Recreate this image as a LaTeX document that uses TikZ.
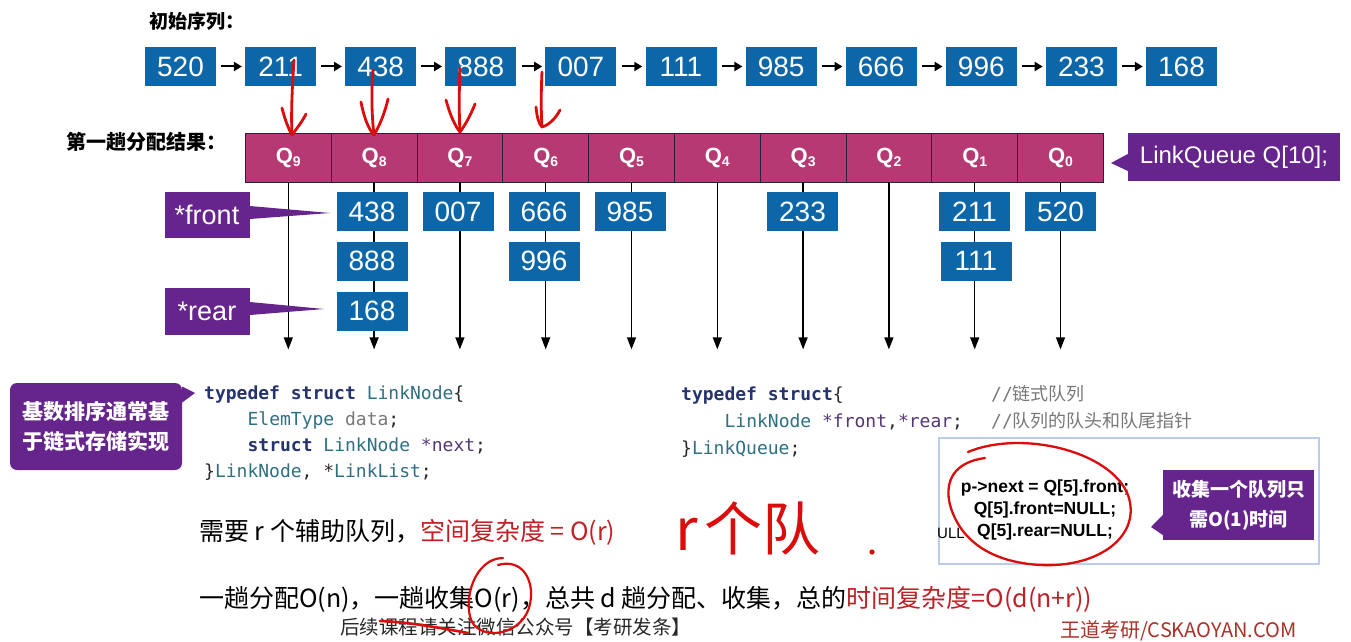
\documentclass[tikz,border=0pt]{standalone}
\usepackage{fontspec}
\setmainfont{Liberation Sans}
\setmonofont{DejaVu Sans Mono}
\newfontfamily\cjk{Noto Sans CJK SC}
\usetikzlibrary{arrows.meta,shadows}
\definecolor{qblue}{RGB}{12,102,168}
\definecolor{qmag}{RGB}{183,57,115}
\definecolor{qline}{RGB}{40,30,70}
\definecolor{qpurple}{RGB}{102,37,140}
\definecolor{tred}{RGB}{192,32,38}
\definecolor{hred}{RGB}{218,12,12}
\definecolor{ckey}{RGB}{38,52,110}
\definecolor{ctype}{RGB}{47,112,130}
\definecolor{cgray}{RGB}{120,120,120}
\definecolor{cptr}{RGB}{85,55,115}
\definecolor{ctxt}{RGB}{40,40,40}
\definecolor{wmred}{RGB}{170,50,40}
\newcommand{\qsub}[1]{\raisebox{-3.5pt}{\fontsize{14}{14}\selectfont #1}}
\newcommand{\kw}[1]{\textcolor{ckey}{\bfseries #1}}
\newcommand{\ty}[1]{\textcolor{ctype}{#1}}
\newcommand{\pv}[1]{\textcolor{cptr}{#1}}
\newcommand{\cm}[1]{\textcolor{cgray}{//{\cjk\fontsize{18}{20}\selectfont #1}}}
\begin{document}
\begin{tikzpicture}[x=1pt,y=-1pt,
  numbox/.style={fill=qblue,text=white,minimum width=71pt,minimum height=39pt,inner sep=0pt,font=\fontsize{28}{30}\selectfont},
  qcell/.style={fill=qmag,draw=qline,line width=0.7pt,minimum width=85.8pt,minimum height=49pt,inner sep=0pt,text=white,font=\bfseries\fontsize{22}{24}\selectfont},
  callout/.style={fill=qpurple,text=white,inner sep=0pt},
  toparrow/.style={draw=black,line width=2pt,-{Triangle[length=8pt,width=9pt]},shorten <=5pt,shorten >=3pt},
  varrow/.style={draw=black,line width=1.3pt,-{Triangle[length=12pt,width=9pt]}},
  codeline/.style={anchor=base west,inner sep=0pt,font=\ttfamily\fontsize{18}{20}\selectfont,text=ctxt},
  cnlabel/.style={inner sep=0pt,font=\cjk\fontsize{25}{28}\selectfont,text=black},
  hand/.style={draw=hred,line width=2.8pt,line cap=round,line join=round}]
\useasboundingbox (0,0) rectangle (1351,642);
\clip (0,0) rectangle (1351,642);
\fill[white] (0,0) rectangle (1351,642);

% titles
\node[inner sep=0pt,anchor=west,font=\cjk\bfseries\fontsize{19}{22}\selectfont] (title1) at (149,21) {初始序列：};
\node[inner sep=0pt,anchor=west,font=\cjk\bfseries\fontsize{20}{22}\selectfont] (title2) at (66,142) {第一趟分配结果：};

% initial sequence
\foreach \v [count=\i from 0] in {520,211,438,888,007,111,985,666,996,233,168}
  \node[numbox] (t\i) at ({180.5+100.1*\i},66.5) {\v};
\foreach \i [evaluate=\i as \j using int(\i+1)] in {0,...,9}
  \draw[toparrow] (t\i.east) -- (t\j.west);

% queue bar
\foreach \q [count=\i from 0] in {9,8,7,6,5,4,3,2,1,0}
  \node[qcell] (q\q) at ({288.3+85.8*\i},157.5) {Q\qsub{\q}};

% vertical arrows
\foreach \q in {9,8,7,6,5,4,3,2,1,0}{
  \path (q\q.south) ++(0,167) coordinate (e\q);
  \draw[varrow] (q\q.south) -- (e\q);
}

% queue elements
\node[numbox] (b8a) at (372,211.5) {438};
\node[numbox] (b8b) at (372,261) {888};
\node[numbox] (b8c) at (372,311) {168};
\node[numbox] (b7a) at (458,211.5) {007};
\node[numbox] (b6a) at (544,211.5) {666};
\node[numbox] (b6b) at (544,261) {996};
\node[numbox] (b5a) at (630,211.5) {985};
\node[numbox] (b3a) at (802.5,211.5) {233};
\node[numbox] (b1a) at (974.5,211.5) {211};
\node[numbox] (b1b) at (976,261) {111};
\node[numbox] (b0a) at (1060.5,211.5) {520};

% front / rear callouts
\node[callout,minimum width=85pt,minimum height=46pt,font=\fontsize{27}{30}\selectfont] (fr) at (207,215) {*front};
\coordinate (frtip) at (330,213);
\fill[qpurple] ([yshift=9pt]fr.east) -- (frtip) -- ([yshift=-4pt]fr.east) -- cycle;
\node[callout,minimum width=85pt,minimum height=47pt,font=\fontsize{27}{30}\selectfont] (re) at (207,311) {*rear};
\coordinate (retip) at (324,309);
\fill[qpurple] ([yshift=9pt]re.east) -- (retip) -- ([yshift=-4pt]re.east) -- cycle;

% LinkQueue callout
\node[callout,minimum width=212pt,minimum height=48pt,font=\fontsize{24}{26}\selectfont] (lq) at (1234,157) {LinkQueue Q[10];};
\coordinate (lqtip) at (1111,163);
\fill[qpurple] ([yshift=3pt]lq.west) -- (lqtip) -- ([yshift=-14pt]lq.west) -- cycle;

% left callout
\node[callout,rounded corners=7pt,minimum width=172pt,minimum height=87pt,align=center,font=\cjk\bfseries\fontsize{21}{30}\selectfont] (radix) at (96,426.5) {基数排序通常基\\于链式存储实现};
\coordinate (radixtip) at (195,393);
\fill[qpurple] ([yshift=40pt]radix.east) -- (radixtip) -- ([yshift=24pt]radix.east) -- cycle;

% code block 1
\node[codeline] (c11) at (204,399) {\kw{typedef struct} \ty{LinkNode}\{};
\node[codeline] (c12) at (247.4,425) {\ty{ElemType} \textcolor{cgray}{data};};
\node[codeline] (c13) at (247.4,451) {\kw{struct} \ty{LinkNode} \pv{*next};};
\node[codeline] (c14) at (204,477) {\}\ty{LinkNode}, *\ty{LinkList};};

% code block 2
\node[codeline] (c21) at (681,400) {\kw{typedef struct}\{};
\node[codeline] (c22) at (724.4,427) {\ty{LinkNode} \pv{*front},\pv{*rear};};
\node[codeline] (c23) at (681,454) {\}\ty{LinkQueue};};
\node[codeline] (c21c) at (991,400) {\cm{链式队列}};
\node[codeline] (c22c) at (991,427) {\cm{队列的队头和队尾指针}};

% complexity lines
\node[cnlabel,anchor=base west] (space) at (199,540) {需要 r 个辅助队列，\textcolor{tred}{空间复杂度 = O(r)}};
\node[cnlabel,anchor=base west] (time) at (199,607) {一趟分配O(n)，一趟收集O(r)，总共 d 趟分配、收集，总的\textcolor{tred}{时间复杂度=O(d(n+r))}};

% watermarks
\node[inner sep=0pt,anchor=base west,font=\cjk\fontsize{19.5}{22}\selectfont,text=ctxt] (wm1) at (340,634) {后续课程请关注微信公众号【考研发条】};
\node[inner sep=0pt,anchor=base west,font=\cjk\fontsize{20}{22}\selectfont,text=wmred] (wm2) at (1060,637) {王道考研/CSKAOYAN.COM};

% panel
\node[fill=white,draw={rgb,255:red,185;green,205;blue,235},line width=2.5pt,minimum width=380pt,minimum height=126pt,inner sep=0pt,
      drop shadow={shadow xshift=0pt,shadow yshift=-1pt,opacity=0.25,fill=blue!40}] (panel) at (1129,501) {};
\node[inner sep=0pt,align=center,font=\bfseries\fontsize{17.5}{22}\selectfont] (pcode) at (1045,510) {p->next = Q[5].front;\\Q[5].front=NULL;\\Q[5].rear=NULL;};
\node[inner sep=0pt,anchor=base west,font=\fontsize{15}{16}\selectfont] (ull) at (937,538) {ULL};
\node[callout,minimum width=151pt,minimum height=70pt,align=center,font=\cjk\bfseries\fontsize{19}{30}\selectfont] (o1) at (1238.5,505) {收集一个队列只\\需O(1)时间};
\coordinate (o1tip) at (1151,527);
\fill[qpurple] ([yshift=-10pt]o1.west) -- (o1tip) -- ([yshift=-30pt]o1.west) -- cycle;

% handwritten annotations
\draw[hand] (294,60) .. controls (292,90) and (291,115) .. (292,134);
\draw[hand] (282,108) .. controls (285,120) and (289,130) .. (292,135) .. controls (297,128) and (302,122) .. (306,114);
\draw[hand] (373,70) .. controls (371,95) and (372,118) .. (374,135);
\draw[hand] (361,102) .. controls (364,118) and (369,130) .. (374,135) .. controls (380,125) and (385,112) .. (388,99);
\draw[hand] (460,68) .. controls (459,92) and (459,115) .. (460,132);
\draw[hand] (446,100) .. controls (450,115) and (455,126) .. (460,132) .. controls (466,124) and (471,114) .. (475,104);
\draw[hand] (542,72) .. controls (541,92) and (541,112) .. (542,127);
\draw[hand] (536,107) .. controls (537,118) and (539,124) .. (542,127) .. controls (549,125) and (556,118) .. (560,110);
\draw[hand,line width=2.3pt] (968,452) .. controls (1020,430) and (1110,450) .. (1128,495)
  .. controls (1142,535) and (1100,568) .. (1040,565)
  .. controls (990,562) and (960,540) .. (950,505)
  .. controls (944,480) and (955,462) .. (985,458);
\draw[hand,line width=2.2pt] (503,558) .. controls (475,558) and (462,600) .. (472,622)
  .. controls (484,642) and (524,634) .. (530,604)
  .. controls (535,580) and (522,558) .. (498,565);
\draw[hand,line width=2.6pt] (380,621) .. controls (410,622) and (440,628) .. (468,633);
\node[inner sep=0pt,font=\cjk\fontsize{58}{60}\selectfont,text=hred] (hw) at (748,528) {r\hspace{6pt}个队};
\fill[hred] (872,552) circle (2.6pt);
\end{tikzpicture}
\end{document}
